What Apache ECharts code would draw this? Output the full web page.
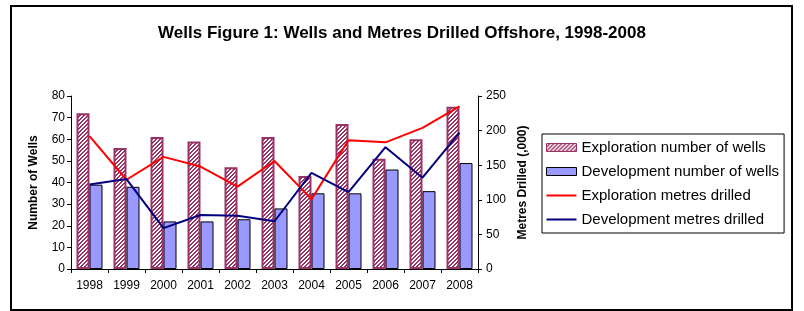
<!DOCTYPE html>
<html>
<head>
<meta charset="utf-8">
<script src="https://cdn.jsdelivr.net/npm/echarts@6/dist/echarts.min.js"></script>
<style>
  html, body { margin: 0; padding: 0; background: #fff; }
  #chart { width: 804px; height: 311px; }
</style>
</head>
<body>
<div id="chart"></div>
<script>
// data
var years = ["1998", "1999", "2000", "2001", "2002", "2003", "2004", "2005", "2006", "2007", "2008"];
var explorationWells = [72, 56, 61, 59, 47, 61, 43, 67, 51, 60, 75];
var developmentWells = [39, 38, 22, 22, 23, 28, 35, 35, 46, 36, 49];
var explorationMetres = [192, 129, 162, 148, 119, 156, 101, 186, 183, 204, 235];
var developmentMetres = [122, 130, 59, 78, 77, 69, 139, 111, 176, 132, 197];

var font = "'Liberation Sans', Arial, sans-serif";

// hatched fill for the exploration bars
function makeHatch() {
  var c = document.createElement("canvas");
  c.width = 4;
  c.height = 4;
  var ctx = c.getContext("2d");
  ctx.fillStyle = "#993366";
  ctx.fillRect(0, 0, 4, 4);
  ctx.fillStyle = "#ffffff";
  for (var y = 0; y < 4; y++) {
    for (var x = 0; x < 4; x++) {
      if ((x + y) % 4 < 2) ctx.fillRect(x, y, 1, 1);
    }
  }
  return c;
}
var hatch = makeHatch();
var lineIcon = "path://M0,0 L30,0 L30,2 L0,2 Z";

var chart = echarts.init(document.getElementById("chart"));
chart.setOption({
  animation: false,
  textStyle: { fontFamily: font, color: "#000" },
  title: {
    text: "Wells Figure 1: Wells and Metres Drilled Offshore, 1998-2008",
    left: "center",
    top: 20,
    textStyle: { fontSize: 17, fontWeight: "bold", color: "#000", fontFamily: font },
  },
  graphic: [
    {
      type: "rect",
      shape: { x: 11, y: 6, width: 781, height: 304 },
      style: { fill: "none", stroke: "#000", lineWidth: 2 },
    },
  ],
  legend: {
    orient: "vertical",
    left: 542,
    top: 134,
    padding: [6, 5, 6, 4],
    borderColor: "#000",
    borderWidth: 1,
    itemWidth: 30,
    itemHeight: 8,
    itemGap: 9,
    textStyle: { fontSize: 15, color: "#000", fontFamily: font, lineHeight: 15 },
    data: [
      {
        name: "Exploration number of wells",
        icon: "rect",
        itemStyle: { color: { image: hatch, repeat: "repeat" }, borderColor: "#993366", borderWidth: 1 },
      },
      {
        name: "Development number of wells",
        icon: "rect",
        itemStyle: { color: "#9999ff", borderColor: "#000", borderWidth: 1 },
      },
      { name: "Exploration metres drilled", icon: lineIcon, itemStyle: { color: "#ff0000" } },
      { name: "Development metres drilled", icon: lineIcon, itemStyle: { color: "#000080" } },
    ],
  },
  grid: { left: 71, right: 326, top: 96, bottom: 42 },
  xAxis: {
    type: "category",
    data: years,
    axisLine: { lineStyle: { color: "#000", width: 1 } },
    axisTick: { show: true, length: 4, lineStyle: { color: "#000" } },
    axisLabel: { fontSize: 12, color: "#000", margin: 11 },
  },
  yAxis: [
    {
      type: "value",
      min: 0,
      max: 80,
      interval: 10,
      name: "Number of Wells",
      nameLocation: "middle",
      nameGap: 31,
      nameTextStyle: { fontSize: 12, fontWeight: "bold", color: "#000" },
      axisLine: { show: true, lineStyle: { color: "#000" } },
      axisTick: { show: true, length: 4, lineStyle: { color: "#000" } },
      axisLabel: { fontSize: 12, color: "#000", margin: 6 },
      splitLine: { show: false },
    },
    {
      type: "value",
      min: 0,
      max: 250,
      interval: 50,
      name: "Metres Drilled (,000)",
      nameLocation: "middle",
      nameGap: 36,
      nameTextStyle: { fontSize: 12, fontWeight: "bold", color: "#000" },
      axisLine: { show: true, lineStyle: { color: "#000" } },
      axisTick: { show: true, length: 4, lineStyle: { color: "#000" } },
      axisLabel: { fontSize: 12, color: "#000", margin: 8 },
      splitLine: { show: false },
    },
  ],
  series: [
    {
      name: "Exploration number of wells",
      type: "bar",
      data: explorationWells,
      barWidth: 13,
      barGap: "0%",
      itemStyle: {
        color: { image: hatch, repeat: "repeat" },
        borderColor: "#993366",
        borderWidth: 2,
      },
    },
    {
      name: "Development number of wells",
      type: "bar",
      data: developmentWells,
      barWidth: 13,
      barGap: "0%",
      itemStyle: { color: "#9999ff", borderColor: "#000", borderWidth: 1 },
    },
    {
      name: "Exploration metres drilled",
      type: "line",
      yAxisIndex: 1,
      data: explorationMetres,
      symbol: "none",
      lineStyle: { color: "#ff0000", width: 2 },
      itemStyle: { color: "#ff0000" },
    },
    {
      name: "Development metres drilled",
      type: "line",
      yAxisIndex: 1,
      data: developmentMetres,
      symbol: "none",
      lineStyle: { color: "#000080", width: 2 },
      itemStyle: { color: "#000080" },
    },
  ],
});
</script>
</body>
</html>
